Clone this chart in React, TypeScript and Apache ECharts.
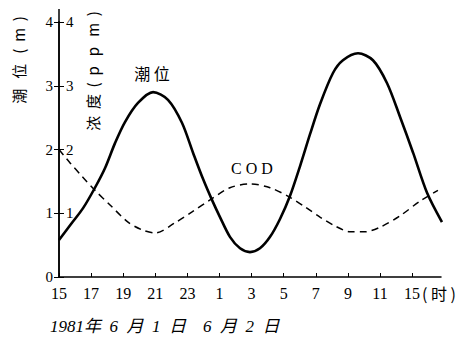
import React, { useEffect, useRef } from "react";
import * as echarts from "echarts";

// hours since 15:00 on June 1
const tideX = [0, 0.81, 1.5, 2.24, 2.87, 3.49, 4.11, 4.92, 5.86, 6.79, 7.66, 8.35, 8.97, 9.53, 10.03, 10.65, 11.28, 11.9, 12.52, 13.15, 13.77, 14.39, 15.02, 15.64, 16.26, 17.07, 17.69, 18.63, 19.56, 20.44, 21.25, 22.06, 22.93, 23.86];
const tideY = [0.58, 0.85, 1.08, 1.4, 1.71, 2.1, 2.43, 2.73, 2.9, 2.78, 2.42, 1.95, 1.54, 1.21, 0.94, 0.63, 0.45, 0.39, 0.45, 0.63, 0.91, 1.27, 1.74, 2.24, 2.71, 3.2, 3.4, 3.51, 3.4, 3.04, 2.51, 1.95, 1.32, 0.86];
const codX = [0, 0.69, 1.43, 2.24, 3.18, 4.3, 5.17, 5.98, 7.23, 8.29, 9.41, 10.65, 11.9, 13.15, 14.39, 15.33, 16.26, 17.2, 18.13, 19.07, 20.0, 21.25, 22.49, 23.61];
const codY = [2.0, 1.79, 1.58, 1.36, 1.13, 0.86, 0.74, 0.69, 0.85, 1.02, 1.21, 1.4, 1.46, 1.4, 1.25, 1.1, 0.94, 0.8, 0.71, 0.71, 0.78, 0.96, 1.19, 1.36];
const hourLabels = ["15", "17", "19", "21", "23", "1", "3", "5", "7", "9", "11", "15"];
const yTicks = [0, 1, 2, 3, 4];

const serif = "'Liberation Serif', 'DejaVu Serif', serif";
const cjk = "'Noto Sans CJK SC', sans-serif";

export default function App() {
  const ref = useRef<HTMLDivElement>(null);
  useEffect(() => {
    const chart = echarts.init(ref.current!, undefined, { renderer: "svg" });
    chart.setOption({
      animation: false,
      backgroundColor: "#fff",
      grid: { left: 59, right: 27, top: 22, bottom: 61 },
      xAxis: {
        type: "value",
        min: 0,
        max: 23.8,
        interval: 2,
        axisLine: { show: true, lineStyle: { color: "#000", width: 1.5 } },
        axisTick: { show: true, inside: true, length: 4, lineStyle: { color: "#000" } },
        splitLine: { show: false },
        axisLabel: {
          color: "#000",
          fontFamily: serif,
          fontSize: 16,
          margin: 8,
          showMaxLabel: false,
          formatter: (v: number) => hourLabels[Math.round(v / 2)] ?? "",
        },
      },
      yAxis: [
        {
          type: "value",
          position: "left",
          min: yTicks[0],
          max: yTicks[yTicks.length - 1],
          interval: 1,
          axisLine: { show: true, lineStyle: { color: "#000", width: 1.5 } },
          axisTick: { show: true, length: 5, lineStyle: { color: "#000" } },
          splitLine: { show: false },
          axisLabel: { color: "#000", fontFamily: serif, fontSize: 15, margin: 6 },
        },
        {
          type: "value",
          position: "left",
          min: yTicks[0],
          max: yTicks[yTicks.length - 1],
          interval: 1,
          axisLine: { show: true, lineStyle: { color: "#000", width: 1.5 } },
          axisTick: { show: true, inside: true, length: 5, lineStyle: { color: "#000" } },
          splitLine: { show: false },
          axisLabel: {
            inside: true,
            color: "#000",
            fontFamily: serif,
            fontSize: 15,
            margin: 7,
            formatter: (v: number) => (v === 0 ? "" : String(v)),
          },
        },
      ],
      series: [
        {
          type: "line",
          yAxisIndex: 0,
          data: tideX.map((x, i) => [x, tideY[i]]),
          smooth: 0.3,
          symbol: "none",
          clip: false,
          lineStyle: { color: "#000", width: 2.6 },
        },
        {
          type: "line",
          yAxisIndex: 1,
          data: codX.map((x, i) => [x, codY[i]]),
          smooth: 0.3,
          symbol: "none",
          clip: false,
          lineStyle: { color: "#000", width: 1.5, type: [7, 5] },
        },
      ],
      graphic: [
        { type: "line", shape: { x1: 59, y1: 9, x2: 59, y2: 22 }, style: { stroke: "#000", lineWidth: 1.5 } },
        {
          type: "text",
          x: 18,
          y: 60,
          rotation: Math.PI / 2,
          style: { text: "潮   位   (  m  )", font: `15px ${cjk}`, fill: "#000", align: "center", verticalAlign: "middle" },
        },
        {
          type: "text",
          x: 92,
          y: 71,
          rotation: Math.PI / 2,
          style: { text: "浓  度  (  p   p   m  )", font: `15px ${cjk}`, fill: "#000", align: "center", verticalAlign: "middle" },
        },
        {
          type: "text",
          x: 152,
          y: 73,
          style: { text: "潮 位", font: `16px ${cjk}`, fill: "#000", align: "center", verticalAlign: "middle" },
        },
        {
          type: "text",
          x: 252,
          y: 168,
          style: { text: "C O D", font: `16px ${serif}`, fill: "#000", align: "center", verticalAlign: "middle" },
        },
        {
          type: "text",
          x: 422,
          y: 293,
          style: { text: "( 时 )", font: `16px ${cjk}`, fill: "#000", align: "left", verticalAlign: "middle" },
        },
        {
          type: "text",
          x: 50,
          y: 326,
          style: {
            text: "1981年  6  月  1  日",
            font: `italic 17px ${serif}, ${cjk}`,
            fill: "#000",
            align: "left",
            verticalAlign: "middle",
          },
        },
        {
          type: "text",
          x: 203,
          y: 326,
          style: {
            text: "6  月  2  日",
            font: `italic 17px ${serif}, ${cjk}`,
            fill: "#000",
            align: "left",
            verticalAlign: "middle",
          },
        },
      ],
    });
    return () => chart.dispose();
  }, []);
  return <div ref={ref} style={{ width: 468, height: 338, position: "absolute", left: 0, top: 0 }} />;
}
